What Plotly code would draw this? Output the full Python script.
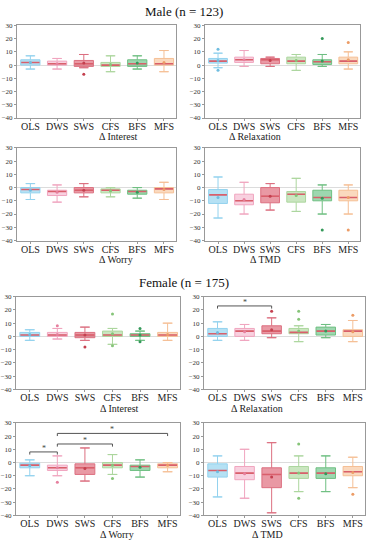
import plotly.graph_objects as go

groups = ["OLS", "DWS", "SWS", "CFS", "BFS", "MFS"]
y_ticks = [30, 20, 10, 0, -10, -20, -30, -40]

# ---- Male (n = 123) ----
m_int_q1 = [0, 0, -1, -1, -1, 0]
m_int_med = [2, 1, 1, 0, 1, 1]
m_int_q3 = [4, 3, 3.5, 2, 4, 5]
m_int_lo = [-3, -3, -2, -5, -3, -5]
m_int_hi = [7, 5, 8, 7, 7, 11]
m_int_mean = [2, 1, 1.5, 0.5, 1.5, 2]
m_int_out = [[], [], [-7], [], [], []]

m_rel_q1 = [1.5, 2, 1, 1, 0.5, 1]
m_rel_med = [3, 4, 4, 3, 2.5, 3]
m_rel_q3 = [5, 6, 5, 6, 4, 6]
m_rel_lo = [-2, -1, -1, -4, -1, -3]
m_rel_hi = [9, 11, 6, 8, 8, 10]
m_rel_mean = [3.5, 4, 3.5, 3.5, 3, 4]
m_rel_out = [[12, -4], [], [], [], [20], [17]]

m_wor_q1 = [-4, -6, -4, -4, -5, -4]
m_wor_med = [-1.5, -3, -2, -2, -3, -1]
m_wor_q3 = [0, -2, 0, -1, -2, 0]
m_wor_lo = [-9, -11, -7, -7, -8, -9]
m_wor_hi = [3, 2, 3, 0, 0, 4]
m_wor_mean = [-2, -3.5, -2, -2.5, -3.5, -1.5]
m_wor_out = [[], [], [], [], [], []]

m_tmd_q1 = [-12, -13, -11.5, -11, -10, -10]
m_tmd_med = [-5.5, -10, -6.5, -5, -7.5, -7.5]
m_tmd_q3 = [-1.5, -5, 0, -3, -2, -2]
m_tmd_lo = [-23, -20, -17, -18, -20, -20]
m_tmd_hi = [8, 4, 3, 7, 2, 2]
m_tmd_mean = [-7.5, -9, -6.5, -6, -8, -7.5]
m_tmd_out = [[], [], [], [], [-32], [-32]]

# ---- Female (n = 175) ----
f_int_q1 = [0, 0, -1, 0, 0, 0]
f_int_med = [1, 1, 1, 1, 1, 1]
f_int_q3 = [3, 3, 3, 4, 2, 3]
f_int_lo = [-3, -2, -3, -6, -3, -3]
f_int_hi = [5, 6, 7, 6, 4, 10]
f_int_mean = [1.5, 1.5, 1, 2, 1, 1.5]
f_int_out = [[], [8], [-8], [17, -7], [6, -4], []]

f_rel_q1 = [0, 0, 2, 2, 1, 0]
f_rel_med = [2, 4, 4, 3, 4, 4]
f_rel_q3 = [6, 6, 8, 6, 7, 5]
f_rel_lo = [-3, -3, -1, -4, -1, -4]
f_rel_hi = [11, 9, 14, 8, 9, 12]
f_rel_mean = [3, 3.5, 5, 4, 4, 3.5]
f_rel_out = [[], [], [19], [13, 19], [], [16]]

f_wor_q1 = [-4, -6, -9, -4, -6, -4]
f_wor_med = [-2, -4, -4, -2, -3, -2]
f_wor_q3 = [-0.5, -2, -1, 0, -2, -1]
f_wor_lo = [-10, -10, -14, -9, -11, -7]
f_wor_hi = [2, 5, 11, 6, 2, 0]
f_wor_mean = [-2.5, -4, -4.5, -2, -3.5, -2]
f_wor_out = [[], [-15], [], [-12], [], []]

f_tmd_q1 = [-11, -13, -19, -12, -12, -10]
f_tmd_med = [-6, -8, -9, -8, -8, -7]
f_tmd_q3 = [-1, -3, -4, -3, -4, -3]
f_tmd_lo = [-26, -27, -38, -22, -22, -19]
f_tmd_hi = [5, 10, 15, 5, 5, 4]
f_tmd_mean = [-7, -8.5, -11, -8, -8.5, -7.5]
f_tmd_out = [[], [], [], [14, -27], [], [-24]]

# significance brackets: (from, to, level)
f_rel_sig = [("OLS", "SWS", 23)]
f_wor_sig = [("OLS", "DWS", 8), ("DWS", "CFS", 14), ("DWS", "MFS", 22)]

# ---- styling ----
fill_colors = ["rgba(120,200,235,0.55)", "rgba(240,150,185,0.45)", "rgba(215,70,90,0.55)",
               "rgba(150,205,130,0.5)", "rgba(60,175,95,0.5)", "rgba(245,170,110,0.45)"]
line_colors = ["#93d2ee", "#f0a5bf", "#dc7080", "#acd69e", "#6fbf82", "#f5bf95"]
dot_colors = ["#6fbde0", "#e6809f", "#c4404f", "#86c479", "#35995a", "#ec9c66"]
median_color = "#d95f6b"
W, H = 368, 550

panels = [
    ("\u0394 Interest", (m_int_q1, m_int_med, m_int_q3, m_int_lo, m_int_hi, m_int_mean, m_int_out), [], (17, 176, 21.7, 115.7)),
    ("\u0394 Relaxation", (m_rel_q1, m_rel_med, m_rel_q3, m_rel_lo, m_rel_hi, m_rel_mean, m_rel_out), [], (205, 360, 21.7, 115.7)),
    ("\u0394 Worry", (m_wor_q1, m_wor_med, m_wor_q3, m_wor_lo, m_wor_hi, m_wor_mean, m_wor_out), [], (17, 176, 146, 240)),
    ("\u0394 TMD", (m_tmd_q1, m_tmd_med, m_tmd_q3, m_tmd_lo, m_tmd_hi, m_tmd_mean, m_tmd_out), [], (205, 360, 146, 240)),
    ("\u0394 Interest", (f_int_q1, f_int_med, f_int_q3, f_int_lo, f_int_hi, f_int_mean, f_int_out), [], (16, 180, 297, 391)),
    ("\u0394 Relaxation", (f_rel_q1, f_rel_med, f_rel_q3, f_rel_lo, f_rel_hi, f_rel_mean, f_rel_out), f_rel_sig, (204, 365, 297, 391)),
    ("\u0394 Worry", (f_wor_q1, f_wor_med, f_wor_q3, f_wor_lo, f_wor_hi, f_wor_mean, f_wor_out), f_wor_sig, (16, 180, 425, 519)),
    ("\u0394 TMD", (f_tmd_q1, f_tmd_med, f_tmd_q3, f_tmd_lo, f_tmd_hi, f_tmd_mean, f_tmd_out), [], (204, 365, 425, 519)),
]

SERIF = "Liberation Serif, Times New Roman, serif"
fig = go.Figure()
layout = dict(width=W, height=H, margin=dict(l=0, r=0, t=0, b=0), showlegend=False,
              plot_bgcolor="white", paper_bgcolor="white", boxmode="overlay",
              font=dict(family=SERIF, color="#222"))
annotations = []

for i, (title, stats, sig, (l, r, t, b)) in enumerate(panels):
    k = i + 1
    xa = "x" if k == 1 else f"x{k}"
    ya = "y" if k == 1 else f"y{k}"
    q1, med, q3, lo, hi, mean, outs = stats
    box_px = (r - l) / 5.95 * 0.72
    for j, g in enumerate(groups):
        fig.add_trace(go.Box(x=[g], q1=[q1[j]], median=[med[j]], q3=[q3[j]],
                             lowerfence=[lo[j]], upperfence=[hi[j]], width=0.72,
                             fillcolor=fill_colors[j], line=dict(color=line_colors[j], width=1),
                             xaxis=xa, yaxis=ya, hoverinfo="skip"))
        fig.add_trace(go.Scatter(x=[g, g], y=[lo[j], hi[j]], mode="markers",
                                 marker=dict(symbol="line-ew", size=box_px * 0.45 / 1.4,
                                             line=dict(color=line_colors[j], width=1)),
                                 xaxis=xa, yaxis=ya, hoverinfo="skip"))
        fig.add_trace(go.Scatter(x=[g], y=[med[j]], mode="markers",
                                 marker=dict(symbol="line-ew", size=(box_px - 1) / 1.4,
                                             line=dict(color=median_color, width=1.6)),
                                 xaxis=xa, yaxis=ya, hoverinfo="skip"))
        fig.add_trace(go.Scatter(x=[g], y=[mean[j]], mode="markers",
                                 marker=dict(symbol="circle", size=3, color=dot_colors[j]),
                                 xaxis=xa, yaxis=ya, hoverinfo="skip"))
        if outs[j]:
            fig.add_trace(go.Scatter(x=[g] * len(outs[j]), y=outs[j], mode="markers",
                                     marker=dict(symbol="circle", size=3, color=dot_colors[j]),
                                     xaxis=xa, yaxis=ya, hoverinfo="skip"))
    for (a, c, yv) in sig:
        fig.add_trace(go.Scatter(x=[a, a, c, c], y=[yv - 2, yv, yv, yv - 2], mode="lines",
                                 line=dict(color="#555", width=1), xaxis=xa, yaxis=ya,
                                 hoverinfo="skip"))
        ia, ic = groups.index(a), groups.index(c)
        annotations.append(dict(x=(ia + ic) / 2, y=yv, xref=xa, yref=ya, text="*",
                                showarrow=False, yanchor="bottom", yshift=-3,
                                font=dict(size=8, color="#444", family=SERIF)))

    layout["xaxis" if k == 1 else f"xaxis{k}"] = dict(
        domain=[l / W, r / W], anchor=ya, type="category", categoryorder="array",
        categoryarray=groups, range=[-0.5, 5.45], showgrid=False, zeroline=False,
        showline=True, mirror=True, linecolor="#999", linewidth=1,
        ticks="outside", ticklen=2, tickcolor="#999", ticklabelstandoff=-3,
        tickfont=dict(size=10, family=SERIF, color="#222"))
    layout["yaxis" if k == 1 else f"yaxis{k}"] = dict(
        domain=[1 - b / H, 1 - t / H], anchor=xa, range=[-40, 30], tickvals=y_ticks,
        showgrid=False, zeroline=True, zerolinecolor="#dcdcdc", zerolinewidth=1,
        showline=True, mirror=True, linecolor="#999", linewidth=1,
        ticks="outside", ticklen=2, tickcolor="#999",
        tickfont=dict(size=7, family=SERIF, color="#333"))
    annotations.append(dict(x=(l + r) / 2 / W, y=1 - (b + 19) / H, xref="paper", yref="paper",
                            text=title, showarrow=False, yanchor="middle",
                            font=dict(size=10, family=SERIF, color="#222")))

annotations.append(dict(x=0.5, y=1 - 8 / H, xref="paper", yref="paper", text="Male (n = 123)",
                        showarrow=False, yanchor="middle", font=dict(size=13, family=SERIF, color="#111")))
annotations.append(dict(x=0.5, y=1 - 283 / H, xref="paper", yref="paper", text="Female (n = 175)",
                        showarrow=False, yanchor="middle", font=dict(size=13, family=SERIF, color="#111")))
layout["annotations"] = annotations
fig.update_layout(**layout)
fig.write_html("out.html", config={"displayModeBar": False},
               post_script="document.body.style.margin='0';document.body.style.overflow='hidden';")
